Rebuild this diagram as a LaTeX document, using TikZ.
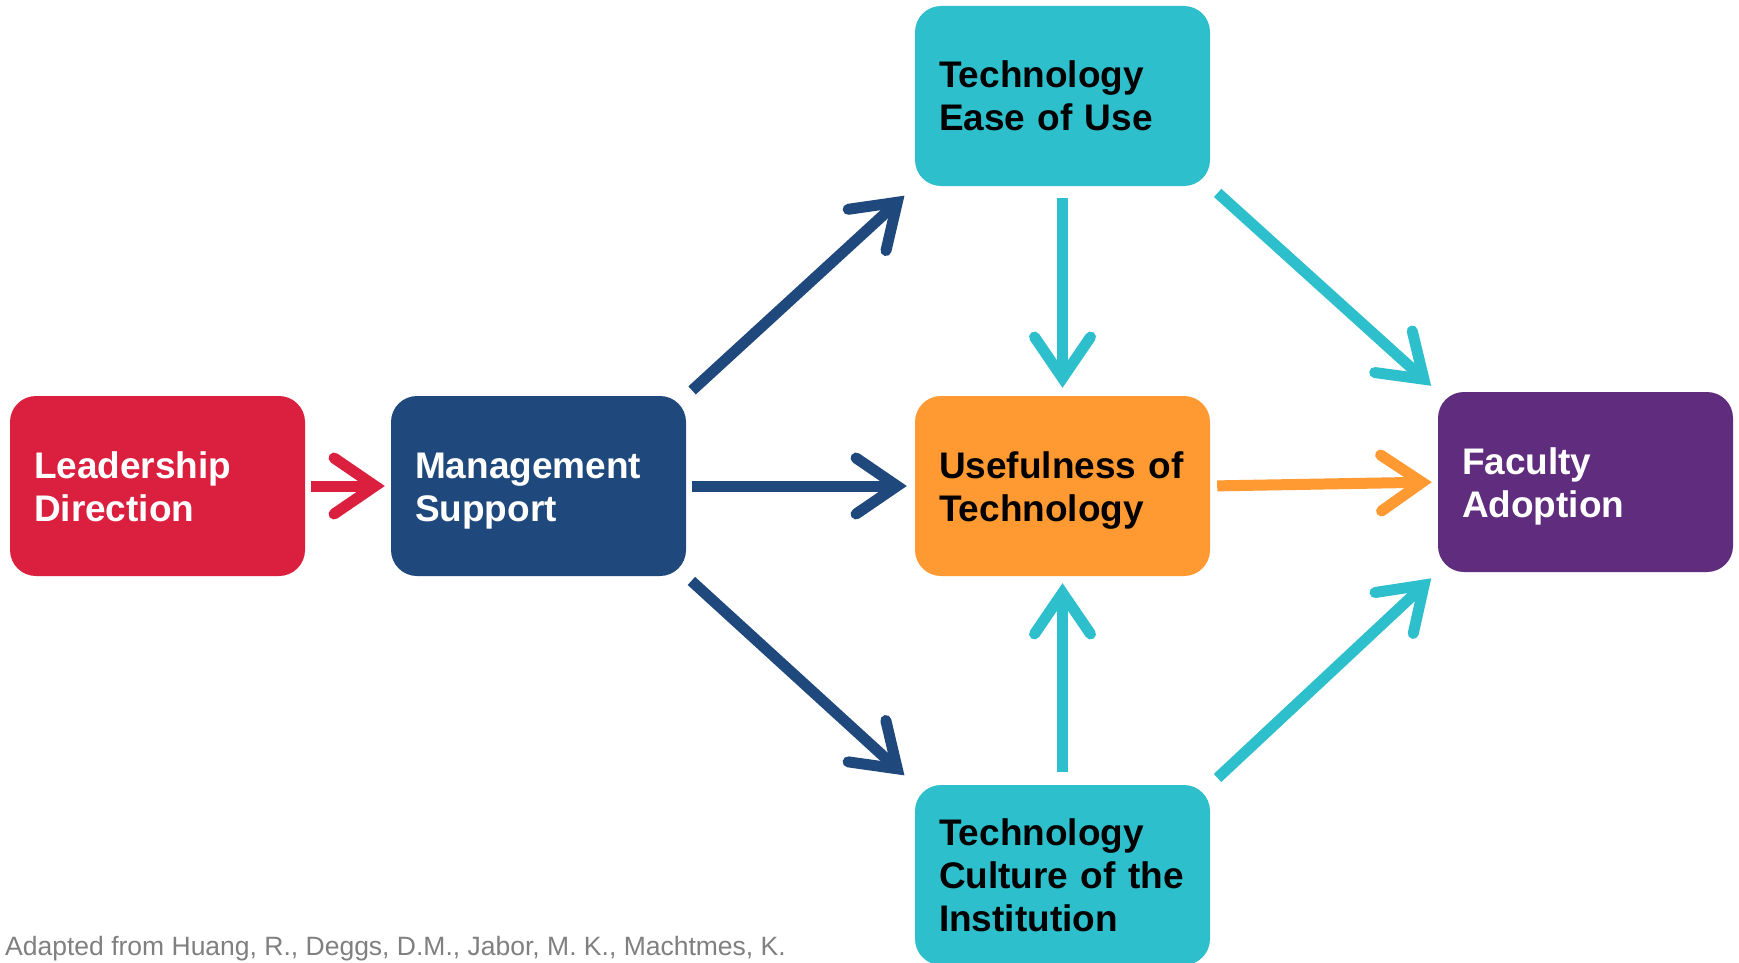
\documentclass[tikz,border=0pt]{standalone}
\usepackage{fontspec}
\setmainfont{Liberation Sans}
\usetikzlibrary{arrows.meta}
\definecolor{cred}{HTML}{DB1F3E}
\definecolor{cnavy}{HTML}{1F497D}
\definecolor{ccyan}{HTML}{2EBFCD}
\definecolor{corange}{HTML}{FF9A33}
\definecolor{cpurple}{HTML}{5F2C7E}
\definecolor{cgray}{HTML}{808080}
\newcommand{\topst}{\rule{0pt}{35pt}}
\newcommand{\botst}{\rule[-8pt]{0pt}{0pt}}
\begin{document}
\begin{tikzpicture}[x=1pt,y=-1pt,
  box/.style={rectangle, rounded corners=26pt, minimum width=295pt, minimum height=180pt,
    inner sep=0pt, text width=247pt, align=left,
    font=\fontsize{37}{43}\selectfont\bfseries},
  conn/.style={line width=11pt, -{Straight Barb[length=41pt,width=56pt,line cap=round,line join=miter]}}]
\clip (0,0) rectangle (1739,963);
\fill[white] (0,0) rectangle (1739,963);
\node[box, fill=cred, text=white]   (lead) at (157.5,486) {\topst Leadership\\Direction\botst};
\node[box, fill=cnavy, text=white]  (ms)   at (538.5,486) {\topst Management\\Support\botst};
\node[box, fill=ccyan, text=black]  (ease) at (1062.5,96) {\topst Technology\\Ease of Use\botst};
\node[box, fill=corange, text=black] (use) at (1062.5,486) {\topst Usefulness of\\Technology\botst};
\node[box, fill=cpurple, text=white] (fac) at (1585.5,482) {\topst Faculty\\Adoption\botst};
\node[box, fill=ccyan, text=black]  (cult) at (1062.5,875) {\topst Technology\\Culture of the\\Institution\botst};
\node[anchor=base west, text=cgray, font=\fontsize{26.5}{31}\selectfont, inner sep=0pt] (credit) at (5,955)
  {Adapted from Huang, R., Deggs, D.M., Jabor, M. K., Machtmes, K.};
% connectors
\draw[conn, cred, shorten <=6pt, shorten >=6pt] (lead.east) -- (ms.west);
\draw[conn, cnavy, shorten <=6pt, shorten >=8pt] (ms.east) -- (use.west);
\draw[conn, cnavy, shorten <=8pt, shorten >=14pt] (ms.north east) -- (ease.south west);
\draw[conn, cnavy, shorten <=7pt, shorten >=14pt] (ms.south east) -- (cult.north west);
\draw[conn, ccyan, shorten <=12pt, shorten >=8pt] (ease.south) -- (use.north);
\draw[conn, ccyan, shorten <=10pt, shorten >=9pt] (ease.south east) -- (fac.north west);
\draw[conn, corange, shorten <=7pt, shorten >=6pt] (use.east) -- (fac.west);
\draw[conn, ccyan, shorten <=13pt, shorten >=7pt] (cult.north) -- (use.south);
\draw[conn, ccyan, shorten <=10pt, shorten >=9pt] (cult.north east) -- (fac.south west);
\end{tikzpicture}
\end{document}
